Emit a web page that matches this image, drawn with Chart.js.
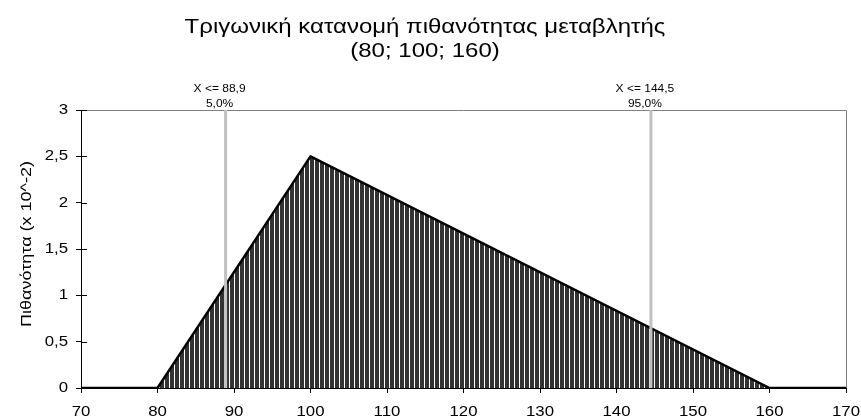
<!DOCTYPE html>
<html>
<head>
<meta charset="utf-8">
<script src="https://cdn.jsdelivr.net/npm/chart.js@4.4.0/dist/chart.umd.min.js"></script>
<style>
    html, body { margin: 0; padding: 0; background: #fff; }
    #wrap { width: 861px; height: 420px; }
</style>
</head>
<body>
<div id="wrap"><canvas id="triChart"></canvas></div>
<script>
// ---- data ----
const titleLines = ['Τριγωνική κατανομή πιθανότητας μεταβλητής', '(80; 100; 160)'];
const yAxisTitle = 'Πιθανότητα (x 10^-2)';
const densityX = [70, 80, 100, 160, 170];
const densityY = [0, 0, 2.5, 0, 0];
const markerX = [88.9, 144.5];
const markerLabels = ['X <= 88,9', 'X <= 144,5'];
const markerPercents = ['5,0%', '95,0%'];
const yMax = 3;

const FONT = "'Liberation Sans', Arial, sans-serif";
const SX = 1.2; // the reference text is drawn a bit wide

/* ======= striped fill ======= */
function stripePattern(ctx) {
    const c = document.createElement('canvas');
    c.width = 5;
    c.height = 4;
    const g = c.getContext('2d');
    g.fillStyle = '#333333';
    g.fillRect(0, 0, 5, 4);
    g.fillStyle = '#ffffff';
    g.fillRect(4, 0, 1, 4);
    return ctx.createPattern(c, 'repeat');
}

// text drawn with a horizontal stretch
function wideText(ctx, text, x, y, size, align, rotate) {
    ctx.save();
    ctx.font = size + 'px ' + FONT;
    const w = ctx.measureText(text).width * SX;
    ctx.translate(x, y);
    if (rotate) ctx.rotate(-Math.PI / 2);
    let left = 0;
    if (align === 'center') left = -w / 2;
    if (align === 'right') left = -w;
    ctx.translate(left, 0);
    ctx.scale(SX, 1);
    ctx.textAlign = 'left';
    ctx.textBaseline = 'middle';
    ctx.fillStyle = '#000';
    ctx.fillText(text, 0, 0);
    ctx.restore();
}

function fmt(v) {
    return String(v).replace('.', ',');
}

/* ======= frame, titles, labels ======= */
const decorations = {
    id: 'decorations',
    beforeDatasetsDraw(chart) {
        const { ctx, chartArea: a } = chart;
        ctx.save();
        // gray top + right border
        ctx.strokeStyle = '#808080';
        ctx.lineWidth = 1;
        ctx.beginPath();
        ctx.moveTo(a.left, a.top + 0.5);
        ctx.lineTo(a.right + 0.5, a.top + 0.5);
        ctx.lineTo(a.right + 0.5, a.bottom);
        ctx.stroke();
        ctx.restore();
    },
    afterDraw(chart) {
        const { ctx, chartArea: a, scales } = chart;
        ctx.save();
        // inner y ticks
        ctx.strokeStyle = '#000';
        ctx.lineWidth = 1;
        scales.y.ticks.forEach(t => {
            const y = Math.round(scales.y.getPixelForValue(t.value)) + 0.5;
            ctx.beginPath();
            ctx.moveTo(a.left, y);
            ctx.lineTo(a.left + 6, y);
            ctx.stroke();
        });
        ctx.restore();

        // tick labels
        scales.y.ticks.forEach(t => {
            wideText(ctx, fmt(t.value), a.left - 13, scales.y.getPixelForValue(t.value), 14, 'right');
        });
        scales.x.ticks.forEach(t => {
            wideText(ctx, fmt(t.value), scales.x.getPixelForValue(t.value), a.bottom + 24, 14, 'center');
        });

        // titles
        wideText(ctx, titleLines[0], 425, 27, 20, 'center');
        wideText(ctx, titleLines[1], 425, 51, 20, 'center');
        wideText(ctx, yAxisTitle, 27, 244, 15, 'center', true);

        // marker labels
        markerX.forEach((v, i) => {
            const x = scales.x.getPixelForValue(v) - 6;
            wideText(ctx, markerLabels[i], x, 89, 10, 'center');
            wideText(ctx, markerPercents[i], x, 104, 10, 'center');
        });
    }
};

const canvas = document.getElementById('triChart');
const ctx = canvas.getContext('2d');

const markerSets = markerX.map(v => ({
    data: [{ x: v, y: 0 }, { x: v, y: yMax }],
    showLine: true,
    borderColor: '#c0c0c0',
    borderWidth: 3,
    pointRadius: 0,
    fill: false,
}));

new Chart(ctx, {
    type: 'scatter',
    data: {
        datasets: [
            ...markerSets,
            {
                data: densityX.map((x, i) => ({ x: x, y: densityY[i] })),
                showLine: true,
                borderColor: '#000',
                borderWidth: 2.5,
                borderJoinStyle: 'round',
                pointRadius: 0,
                tension: 0,
                fill: 'origin',
                backgroundColor: stripePattern(ctx),
            },
        ],
    },
    options: {
        responsive: true,
        maintainAspectRatio: false,
        animation: false,
        devicePixelRatio: 1,
        layout: {
            padding: { top: 110, right: 15, bottom: 0, left: 0 },
        },
        plugins: {
            legend: { display: false },
            title: { display: false },
            tooltip: { enabled: false },
        },
        scales: {
            x: {
                type: 'linear',
                min: 70,
                max: 170,
                afterFit(scale) { scale.height = 32; },
                grid: {
                    drawOnChartArea: false,
                    tickLength: 5,
                    color: '#000',
                },
                border: { color: '#000', width: 1 },
                ticks: { stepSize: 10, display: false },
            },
            y: {
                min: 0,
                max: yMax,
                afterFit(scale) { scale.width = 81; },
                grid: {
                    drawOnChartArea: false,
                    tickLength: 5,
                    color: '#000',
                },
                border: { color: '#000', width: 1 },
                ticks: { stepSize: 0.5, display: false },
            },
        },
    },
    plugins: [decorations],
});
</script>
</body>
</html>
